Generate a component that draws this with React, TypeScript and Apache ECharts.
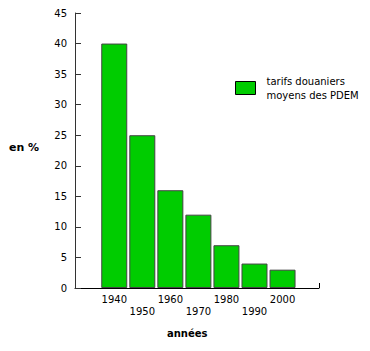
import React, { useEffect, useRef } from "react";
import * as echarts from "echarts";

const years = [1940, 1950, 1960, 1970, 1980, 1990, 2000];
const tariffs = [40, 25, 16, 12, 7, 4, 3];
const seriesName = "tarifs douaniers\nmoyens des PDEM";
const yTitle = "en %";
const xTitle = "années";

const FONT = "Verdana, 'DejaVu Sans', sans-serif";

export default function App() {
  const ref = useRef<HTMLDivElement>(null);
  useEffect(() => {
    const chart = echarts.init(ref.current!, null, { renderer: "svg" });
    chart.setOption({
      animation: false,
      backgroundColor: "#ffffff",
      textStyle: { fontFamily: FONT, color: "#000" },
      grid: { left: 67, top: 5, right: 51, bottom: 63, containLabel: false },
      legend: {
        left: 222,
        top: 61,
        icon: "rect",
        itemWidth: 20,
        itemHeight: 13,
        itemGap: 4,
        textStyle: { fontFamily: FONT, fontSize: 10, color: "#000", lineHeight: 14, padding: [0, 0, 0, 6] },
        itemStyle: { borderColor: "#000", borderWidth: 1 },
        data: [seriesName],
      },
      xAxis: {
        type: "value",
        min: 1926,
        max: 2013,
        splitLine: { show: false },
        axisLine: { show: true, lineStyle: { color: "#000", width: 1 } },
        axisTick: { show: true, inside: true, length: 5, customValues: [2013], lineStyle: { color: "#000" } },
        axisLabel: {
          customValues: years,
          fontFamily: FONT,
          fontSize: 10,
          color: "#000",
          margin: 5,
          lineHeight: 12,
          formatter: (v: number) => (((v - 1940) / 10) % 2 === 1 ? "\n" + v : String(v)),
        },
      },
      yAxis: {
        type: "value",
        min: 0,
        max: 45,
        interval: 5,
        splitLine: { show: false },
        axisLine: { show: true, lineStyle: { color: "#333", width: 1 } },
        axisTick: { show: true, inside: true, length: 6, lineStyle: { color: "#333" } },
        axisLabel: { fontFamily: FONT, fontSize: 10, color: "#000", margin: 8 },
      },
      graphic: [
        {
          type: "text",
          left: 1,
          top: 134,
          style: { text: yTitle, fontFamily: FONT, fontSize: 11, fontWeight: "bold", fill: "#000" },
        },
        {
          type: "text",
          left: 159,
          top: 320,
          style: { text: xTitle, fontFamily: FONT, fontSize: 10, fontWeight: "bold", fill: "#000" },
        },
      ],
      series: [
        {
          name: seriesName,
          type: "bar",
          barWidth: 26,
          data: years.map((y, i) => [y, tariffs[i]]),
          itemStyle: { color: "#00cc00", borderColor: "#444", borderWidth: 1 },
        },
      ],
    });
    return () => chart.dispose();
  }, []);
  return <div ref={ref} style={{ width: 362, height: 343 }} />;
}
